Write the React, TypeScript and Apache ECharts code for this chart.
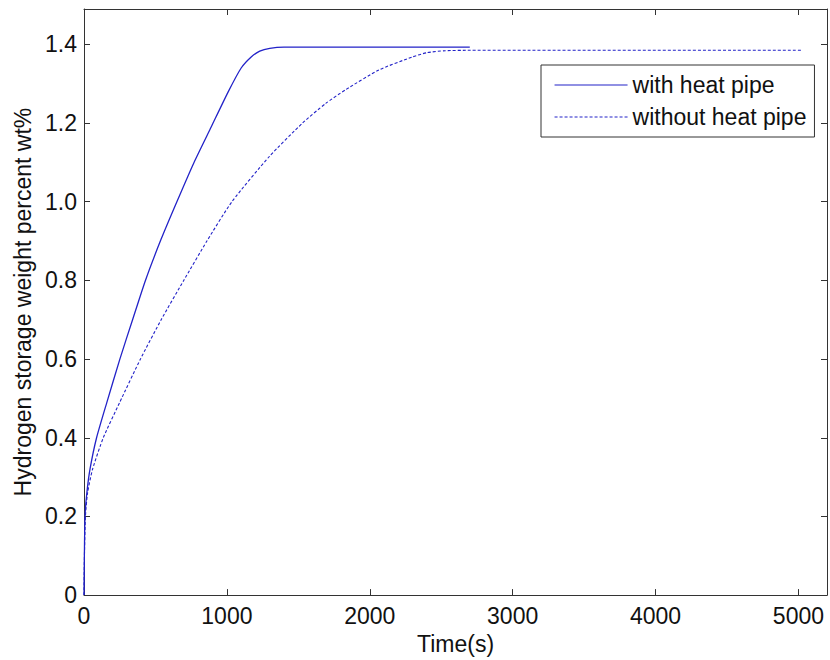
import React, { useEffect, useRef } from "react";
import * as echarts from "echarts";

const tWith = [0, 2, 7, 20, 42, 88, 160, 251, 340, 430, 540, 650, 770, 890, 1010, 1100, 1170, 1230, 1300, 1400, 1500, 2700];
const yWith = [0, 0.08, 0.2, 0.26, 0.32, 0.4, 0.49, 0.6, 0.7, 0.8, 0.905, 1.0, 1.1, 1.19, 1.28, 1.34, 1.368, 1.383, 1.39, 1.393, 1.393, 1.393];

const tWithout = [0, 3, 10, 25, 60, 135, 250, 395, 540, 698, 860, 1035, 1297, 1529, 1692, 1832, 2064, 2297, 2400, 2529, 2700, 5028];
const yWithout = [0, 0.1, 0.2, 0.26, 0.32, 0.4, 0.49, 0.6, 0.7, 0.8, 0.9, 1.0, 1.115, 1.2, 1.25, 1.285, 1.335, 1.368, 1.379, 1.384, 1.385, 1.385];

const seriesNames = ["with heat pipe", "without heat pipe"];
const xTicks = [0, 1000, 2000, 3000, 4000, 5000];
const yTicks = [0, 0.2, 0.4, 0.6, 0.8, 1.0, 1.2, 1.4];

const FONT = "Liberation Sans, Arial, Helvetica, sans-serif";
const AX = "#333333";
const BLUE = "#2222c8";

export default function App() {
  const ref = useRef<HTMLDivElement>(null);
  useEffect(() => {
    if (!ref.current) return;
    const chart = echarts.init(ref.current, null, { renderer: "svg" });
    const xFmt = (v: number) => (xTicks.includes(v) ? String(v) : "");
    const yFmt = (v: number) => {
      const hit = yTicks.find((t) => Math.abs(t - v) < 1e-6);
      if (hit === undefined) return "";
      return hit === 0 ? "0" : hit.toFixed(1);
    };
    const axisLine = { show: true, onZero: false, lineStyle: { color: AX, width: 1 } };
    const tick = { show: true, inside: true, length: 6, lineStyle: { color: AX, width: 1 } };
    chart.setOption({
      animation: false,
      backgroundColor: "#ffffff",
      textStyle: { fontFamily: FONT },
      grid: { left: 84, right: 2, top: 9, bottom: 64, containLabel: false },
      legend: {
        orient: "vertical",
        left: 541,
        top: 65,
        padding: [8, 8, 8, 13],
        itemWidth: 73,
        itemHeight: 14,
        itemGap: 8,
        borderColor: AX,
        borderWidth: 1,
        backgroundColor: "#ffffff",
        itemStyle: { opacity: 0, color: "rgba(0,0,0,0)", borderWidth: 0 },
        lineStyle: { width: 1.1 },
        textStyle: { fontSize: 23, color: "#111111", fontFamily: FONT, lineHeight: 24 },
        data: seriesNames,
      },
      xAxis: [
        {
          type: "value",
          min: 0,
          max: 5200,
          interval: 1000,
          position: "bottom",
          name: "Time(s)",
          nameLocation: "middle",
          nameGap: 34,
          nameTextStyle: { fontSize: 23, color: "#111111", fontFamily: FONT },
          axisLine,
          axisTick: tick,
          axisLabel: { show: true, formatter: xFmt, fontSize: 23, color: "#111111", margin: 9, fontFamily: FONT },
          splitLine: { show: false },
        },
        {
          type: "value",
          min: 0,
          max: 5200,
          interval: 1000,
          position: "top",
          axisLine,
          axisTick: tick,
          axisLabel: { show: false },
          splitLine: { show: false },
        },
      ],
      yAxis: [
        {
          type: "value",
          min: 0,
          max: 1.49,
          interval: 0.2,
          position: "left",
          name: "Hydrogen storage weight percent wt%",
          nameLocation: "middle",
          nameGap: 46,
          nameTextStyle: { fontSize: 23, color: "#111111", fontFamily: FONT },
          axisLine,
          axisTick: tick,
          axisLabel: { show: true, formatter: yFmt, fontSize: 23, color: "#111111", margin: 7, fontFamily: FONT },
          splitLine: { show: false },
        },
        {
          type: "value",
          min: 0,
          max: 1.49,
          interval: 0.2,
          position: "right",
          axisLine,
          axisTick: tick,
          axisLabel: { show: false },
          splitLine: { show: false },
        },
      ],
      series: [
        {
          name: seriesNames[0],
          type: "line",
          xAxisIndex: 0,
          yAxisIndex: 0,
          data: tWith.map((t, i) => [t, yWith[i]]),
          showSymbol: false,
          symbol: "none",
          smooth: 0.2,
          lineStyle: { color: BLUE, width: 1.3, type: "solid" },
          itemStyle: { color: BLUE },
        },
        {
          name: seriesNames[1],
          type: "line",
          xAxisIndex: 0,
          yAxisIndex: 0,
          data: tWithout.map((t, i) => [t, yWithout[i]]),
          showSymbol: false,
          symbol: "none",
          smooth: 0.2,
          lineStyle: { color: BLUE, width: 1.1, type: [3, 2] },
          itemStyle: { color: BLUE },
        },
      ],
    });
    return () => chart.dispose();
  }, []);
  return (
    <div
      ref={ref}
      style={{ position: "fixed", left: 0, top: 0, width: 830, height: 660, background: "#fff" }}
    />
  );
}
